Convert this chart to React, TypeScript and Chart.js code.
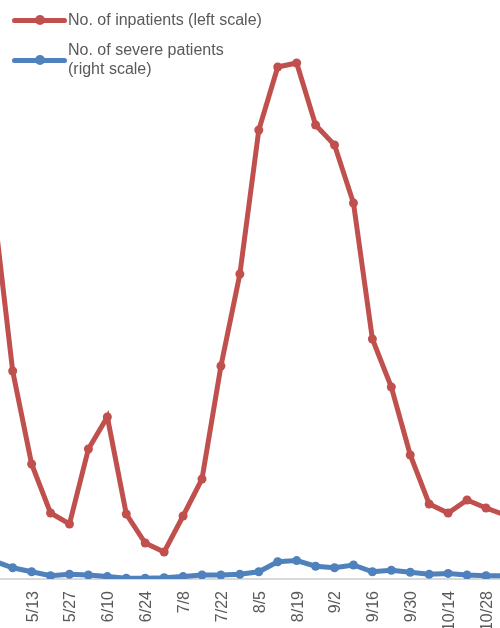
import React, { useEffect, useRef } from "react";
import { Chart, registerables } from "chart.js";

Chart.register(...registerables);

// Weekly categories (every second one is labelled)
const weeks = [
  "4/29", "5/6", "5/13", "5/20", "5/27", "6/3", "6/10", "6/17", "6/24", "7/1",
  "7/8", "7/15", "7/22", "7/29", "8/5", "8/12", "8/19", "8/26", "9/2", "9/9",
  "9/16", "9/23", "9/30", "10/7", "10/14", "10/21", "10/28", "11/4",
];

// No. of inpatients (left scale)
const inpatients = [
  18550, 10400, 5750, 3300, 2750, 6500, 8100, 3250, 1800, 1350,
  3150, 5000, 10650, 15250, 22450, 25600, 25800, 22700, 21700, 18800,
  12000, 9600, 6200, 3750, 3300, 3950, 3550, 3200,
];

// No. of severe patients (right scale)
const severe = [
  450, 280, 180, 80, 120, 100, 60, 20, 20, 30,
  60, 100, 100, 120, 180, 430, 460, 320, 280, 350,
  180, 220, 170, 120, 140, 100, 80, 80,
];

const seriesNames = ["No. of inpatients (left scale)", "No. of severe patients", "(right scale)"];

// visible window of the (cropped) time axis, in week indices
const xMin = 0.33;
const xMax = 26.74;
const leftMax = 28000;
const rightMax = 14000;

const RED = "#C0504D";
const BLUE = "#4F81BD";
const FONT = '"Liberation Sans", Arial, sans-serif';
const TEXT = "#595959";

function LegendMarker({ color, top }: { color: string; top: number }) {
  return (
    <div style={{ position: "absolute", left: 12, top: top - 2.5, width: 55, height: 5 }}>
      <div style={{ position: "absolute", left: 0, top: 0, width: 55, height: 5, background: color, borderRadius: 2.5 }} />
      <div style={{ position: "absolute", left: 22.5, top: -2.5, width: 10, height: 10, background: color, borderRadius: 5 }} />
    </div>
  );
}

export default function App() {
  const ref = useRef<HTMLCanvasElement>(null);

  useEffect(() => {
    const chart = new Chart(ref.current!, {
      type: "line",
      data: {
        datasets: [
          {
            label: seriesNames[0],
            data: inpatients.map((v, i) => ({ x: i, y: v })),
            borderColor: RED,
            backgroundColor: RED,
            pointBackgroundColor: RED,
            pointBorderColor: RED,
            borderWidth: 5,
            pointRadius: 4.5,
            pointBorderWidth: 0,
            tension: 0,
            yAxisID: "yL",
          },
          {
            label: seriesNames[1] + " " + seriesNames[2],
            data: severe.map((v, i) => ({ x: i, y: v })),
            borderColor: BLUE,
            backgroundColor: BLUE,
            pointBackgroundColor: BLUE,
            pointBorderColor: BLUE,
            borderWidth: 5,
            pointRadius: 4.5,
            pointBorderWidth: 0,
            tension: 0,
            yAxisID: "yR",
          },
        ],
      },
      options: {
        animation: false,
        responsive: false,
        events: [],
        layout: { autoPadding: false, padding: { top: 19, left: 0, right: 0, bottom: 0 } },
        plugins: { legend: { display: false }, tooltip: { enabled: false } },
        scales: {
          x: {
            type: "linear",
            min: xMin,
            max: xMax,
            grid: { display: false, drawTicks: false },
            border: { display: true, color: "#d9d9d9", width: 2 },
            afterBuildTicks: (s: any) => {
              s.ticks = weeks
                .map((_, i) => ({ value: i }))
                .filter((t) => t.value % 2 === 0);
            },
            afterFit: (s: any) => {
              s.paddingLeft = 0;
              s.paddingRight = 0;
              s.height = 61;
            },
            ticks: {
              autoSkip: false,
              minRotation: 90,
              maxRotation: 90,
              padding: 12,
              labelOffset: 1.5,
              color: TEXT,
              font: { family: FONT, size: 16 },
              callback: (v: any) => weeks[Number(v)] ?? "",
            },
          },
          yL: { type: "linear", position: "left", display: false, min: 0, max: leftMax },
          yR: { type: "linear", position: "right", display: false, min: 0, max: rightMax },
        },
      },
    } as any);
    return () => chart.destroy();
  }, []);

  return (
    <div
      style={{
        position: "fixed",
        left: 0,
        top: 0,
        width: 500,
        height: 628,
        overflow: "hidden",
        background: "#fff",
        fontFamily: FONT,
      }}
    >
      <canvas ref={ref} width={500} height={640} style={{ position: "absolute", left: 0, top: 0, width: 500, height: 640 }} />
      <LegendMarker color={RED} top={20} />
      <div style={{ position: "absolute", left: 68, top: 10, fontSize: 16, lineHeight: "19px", color: TEXT, whiteSpace: "nowrap" }}>
        {seriesNames[0]}
      </div>
      <LegendMarker color={BLUE} top={60} />
      <div style={{ position: "absolute", left: 68, top: 40, fontSize: 16, lineHeight: "19px", color: TEXT, whiteSpace: "nowrap" }}>
        {seriesNames[1]}
        <br />
        {seriesNames[2]}
      </div>
    </div>
  );
}
